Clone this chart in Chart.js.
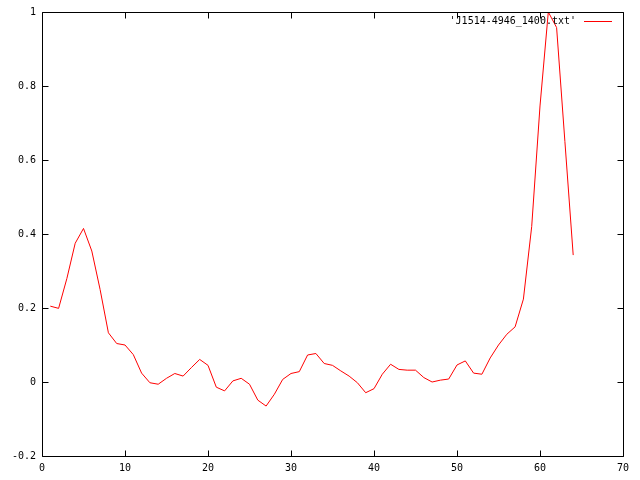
<!DOCTYPE html>
<html>
<head>
<meta charset="utf-8">
<script src="https://cdn.jsdelivr.net/npm/chart.js@4.4.1/dist/chart.umd.min.js"></script>
<style>
  html, body { margin: 0; padding: 0; background: #fff; }
  #wrap { width: 640px; height: 480px; }
</style>
</head>
<body>
<div id="wrap"><canvas id="c" width="640" height="480"></canvas></div>
<script>
const seriesLabel = "'J1514-4946_1400.txt'";
const xValues = [1,2,3,4,5,6,7,8,9,10,11,12,13,14,15,16,17,18,19,20,21,22,23,24,25,26,27,28,29,30,31,32,
                 33,34,35,36,37,38,39,40,41,42,43,44,45,46,47,48,49,50,51,52,53,54,55,56,57,58,59,60,61,62,63,64];
const yValues = [0.205,0.199,0.28,0.375,0.415,0.354,0.25,0.133,0.104,0.100,0.074,0.024,-0.002,-0.006,0.010,0.023,
                 0.016,0.039,0.061,0.045,-0.014,-0.024,0.003,0.010,-0.006,-0.049,-0.065,-0.033,0.007,0.023,0.028,0.073,
                 0.077,0.050,0.045,0.030,0.016,-0.002,-0.029,-0.018,0.021,0.048,0.034,0.032,0.032,0.012,0.000,0.005,
                 0.008,0.046,0.057,0.024,0.021,0.065,0.100,0.129,0.149,0.224,0.42,0.746,1.0,0.958,0.65,0.343];
const xTicks = [0,10,20,30,40,50,60,70];
const yTicks = [-0.2,0,0.2,0.4,0.6,0.8,1];
const yTickLabels = ["-0.2","0","0.2","0.4","0.6","0.8","1"];

const FONT = "'DejaVu Sans Mono', monospace";

const points = xValues.map((x, i) => ({x: x, y: yValues[i]}));

const gnuplotFrame = {
  id: 'gnuplotFrame',
  afterDraw(chart) {
    const ctx = chart.ctx;
    const a = chart.chartArea;
    const xs = chart.scales.x, ys = chart.scales.y;
    ctx.save();
    ctx.strokeStyle = '#000';
    ctx.lineWidth = 1;
    const L = Math.round(a.left) + 0.5, R = Math.round(a.right) + 0.5;
    const T = Math.round(a.top) + 0.5, B = Math.round(a.bottom) + 0.5;
    ctx.beginPath();
    ctx.rect(L, T, R - L, B - T);
    ctx.stroke();
    const tl = 6;
    ctx.beginPath();
    xTicks.forEach(v => {
      const px = Math.round(xs.getPixelForValue(v)) + 0.5;
      ctx.moveTo(px, B); ctx.lineTo(px, B - tl);
      ctx.moveTo(px, T); ctx.lineTo(px, T + tl);
    });
    yTicks.forEach(v => {
      const py = Math.round(ys.getPixelForValue(v)) + 0.5;
      ctx.moveTo(L, py); ctx.lineTo(L + tl, py);
      ctx.moveTo(R, py); ctx.lineTo(R - tl, py);
    });
    ctx.stroke();
    // legend
    ctx.font = "10px " + FONT;
    ctx.fillStyle = '#000';
    ctx.textAlign = 'right';
    ctx.textBaseline = 'middle';
    const ly = 21;
    ctx.fillText(seriesLabel, 576, ly);
    ctx.strokeStyle = '#ff0000';
    ctx.beginPath();
    ctx.moveTo(584, ly + 0.5); ctx.lineTo(612, ly + 0.5);
    ctx.stroke();
    ctx.restore();
  }
};

new Chart(document.getElementById('c'), {
  type: 'scatter',
  data: {
    datasets: [{
      label: seriesLabel,
      data: points,
      showLine: true,
      borderColor: '#ff0000',
      backgroundColor: '#ff0000',
      borderWidth: 1,
      pointRadius: 0,
      tension: 0
    }]
  },
  options: {
    responsive: false,
    animation: false,
    devicePixelRatio: 1,
    layout: { padding: { left: 0, right: 17, top: 11, bottom: 0 } },
    plugins: { legend: { display: false }, tooltip: { enabled: false } },
    scales: {
      x: {
        type: 'linear', min: 0, max: 70,
        afterBuildTicks: s => { s.ticks = xTicks.map(v => ({value: v})); },
        afterFit: s => { s.height = 24; },
        grid: { display: false, drawTicks: false },
        border: { display: false },
        ticks: { color: '#000', font: { family: FONT, size: 10 }, padding: 6, maxRotation: 0,
                 callback: v => String(v) }
      },
      y: {
        type: 'linear', min: -0.2, max: 1,
        afterBuildTicks: s => { s.ticks = yTicks.map(v => ({value: v})); },
        afterFit: s => { s.width = 42; },
        grid: { display: false, drawTicks: false },
        border: { display: false },
        ticks: { color: '#000', font: { family: FONT, size: 10 }, padding: 6,
                 callback: (v, i) => yTickLabels[i] }
      }
    }
  },
  plugins: [gnuplotFrame]
});
</script>
</body>
</html>
